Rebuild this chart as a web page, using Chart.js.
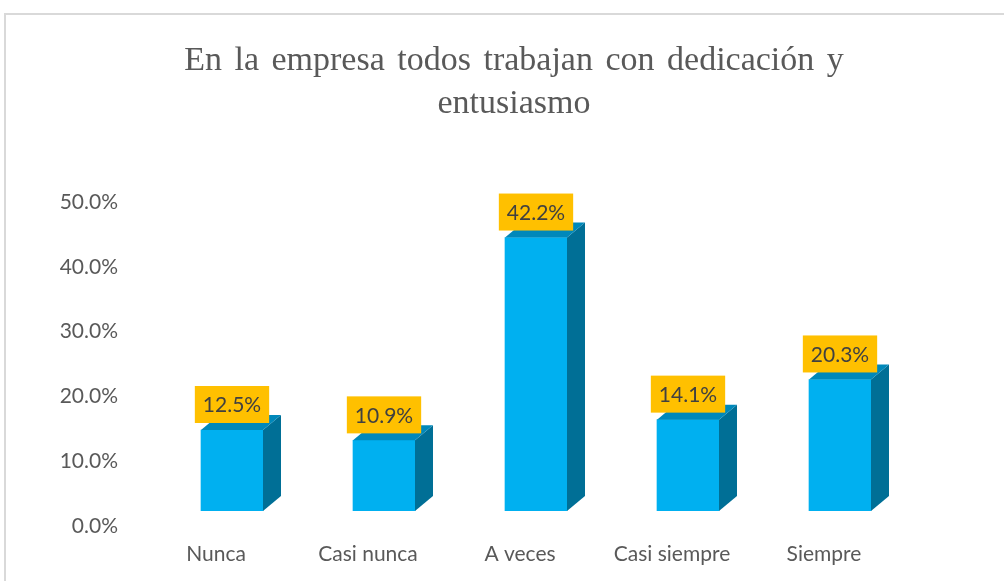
<!DOCTYPE html>
<html>
<head>
<meta charset="utf-8">
<script src="https://cdn.jsdelivr.net/npm/chart.js@4"></script>
<style>
  html, body { margin: 0; padding: 0; background: #fff; }
  canvas { display: block; }
</style>
</head>
<body>
<canvas id="chart" width="1004" height="581"></canvas>
<script>
// Chart data
const categories = ['Nunca', 'Casi nunca', 'A veces', 'Casi siempre', 'Siempre'];
const percentages = [12.5, 10.9, 42.2, 14.1, 20.3];
const titleLines = ['En la empresa todos trabajan con dedicación y', 'entusiasmo'];

// Colours of the three faces
const FRONT = '#00B0F0';
const SIDE = '#006F96';
const TOP = '#0088BA';

// Offsets for the fake 3D look
const SHIFT_X = 16, SHIFT_Y = -15;
const DEPTH_X = 18, DEPTH_Y = -15;

const pct = v => v.toFixed(1) + '%';

// Draws the frame, the title, the 3D faces and the orange value boxes
const bar3d = {
    id: 'bar3d',
    beforeDraw(chart) {
        const ctx = chart.ctx;
        ctx.save();
        ctx.strokeStyle = '#D9D9D9';
        ctx.lineWidth = 2;
        ctx.strokeRect(5, 14, 1200, 800);

        ctx.fillStyle = '#595959';
        ctx.font = '34px "Liberation Serif", "Times New Roman", serif';
        ctx.textAlign = 'center';
        ctx.textBaseline = 'middle';
        if ('wordSpacing' in ctx) ctx.wordSpacing = '4px';
        titleLines.forEach((line, i) => ctx.fillText(line, 514, 61 + i * 43));
        ctx.restore();
    },
    beforeDatasetsDraw(chart) {
        chart.ctx.save();
        chart.ctx.translate(SHIFT_X, SHIFT_Y);
    },
    afterDatasetsDraw(chart) {
        const ctx = chart.ctx;
        const meta = chart.getDatasetMeta(0);
        meta.data.forEach((bar, i) => {
            const l = bar.x - bar.width / 2;
            const r = bar.x + bar.width / 2;
            const t = bar.y;
            const b = bar.base;

            // side face
            ctx.fillStyle = SIDE;
            ctx.beginPath();
            ctx.moveTo(r, t);
            ctx.lineTo(r + DEPTH_X, t + DEPTH_Y);
            ctx.lineTo(r + DEPTH_X, b + DEPTH_Y);
            ctx.lineTo(r, b);
            ctx.closePath();
            ctx.fill();

            // top face
            ctx.fillStyle = TOP;
            ctx.beginPath();
            ctx.moveTo(l, t);
            ctx.lineTo(l + DEPTH_X, t + DEPTH_Y);
            ctx.lineTo(r + DEPTH_X, t + DEPTH_Y);
            ctx.lineTo(r, t);
            ctx.closePath();
            ctx.fill();

            // value label
            const text = pct(percentages[i]);
            ctx.font = '21px Lato';
            const w = ctx.measureText(text).width + 16;
            const h = 37;
            const by = t - 7 - h;
            ctx.fillStyle = '#FFC000';
            ctx.fillRect(bar.x - w / 2, by, w, h);
            ctx.fillStyle = '#404040';
            ctx.textAlign = 'center';
            ctx.textBaseline = 'middle';
            ctx.fillText(text, bar.x, by + h / 2 + 1);
        });
        ctx.restore();
    }
};

new Chart(document.getElementById('chart'), {
    type: 'bar',
    data: {
        labels: categories,
        datasets: [{
            data: percentages,
            backgroundColor: FRONT,
            borderWidth: 0,
            barThickness: 62
        }]
    },
    options: {
        responsive: false,
        animation: false,
        layout: { padding: { left: 0, right: 104, top: 202, bottom: 0 } },
        plugins: {
            legend: { display: false },
            tooltip: { enabled: false },
            title: { display: false }
        },
        scales: {
            x: {
                grid: { display: false, drawTicks: false },
                border: { display: false },
                ticks: { color: '#595959', font: { family: 'Lato', size: 21 }, padding: 16 },
                afterFit(scale) { scale.height = 55; }
            },
            y: {
                min: 0,
                max: 50,
                grid: { display: false, drawTicks: false },
                border: { display: false },
                ticks: {
                    stepSize: 10,
                    color: '#595959',
                    font: { family: 'Lato', size: 21 },
                    padding: 22,
                    callback: v => pct(v)
                },
                afterFit(scale) { scale.width = 140; }
            }
        }
    },
    plugins: [bar3d]
});
</script>
</body>
</html>
